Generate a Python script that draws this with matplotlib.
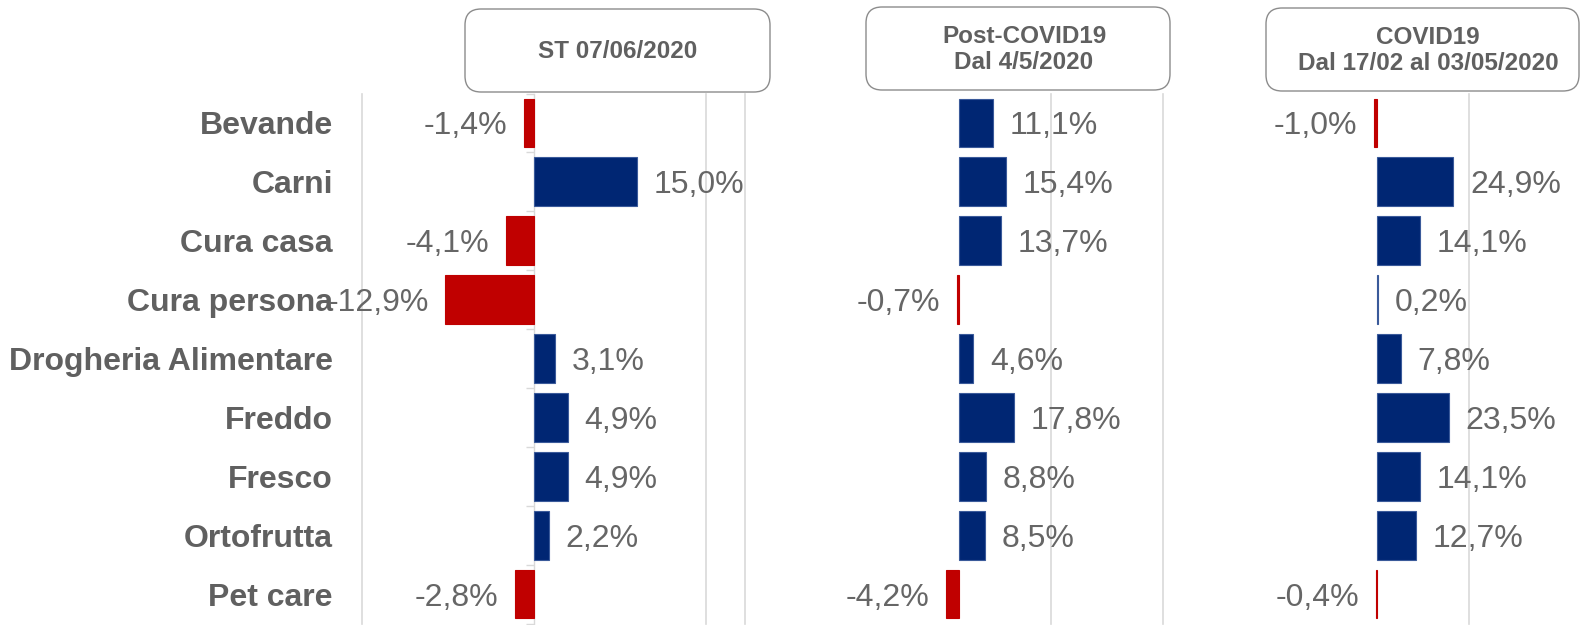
import matplotlib
matplotlib.use("Agg")
import matplotlib.pyplot as plt
import matplotlib.transforms as mtransforms
from matplotlib.patches import FancyBboxPatch

plt.rcParams["font.family"] = ["Liberation Sans", "DejaVu Sans"]

categories = ["Bevande", "Carni", "Cura casa", "Cura persona", "Drogheria Alimentare",
              "Freddo", "Fresco", "Ortofrutta", "Pet care"]
st_values = [-1.4, 15.0, -4.1, -12.9, 3.1, 4.9, 4.9, 2.2, -2.8]
post_values = [11.1, 15.4, 13.7, -0.7, 4.6, 17.8, 8.8, 8.5, -4.2]
covid_values = [-1.0, 24.9, 14.1, 0.2, 7.8, 23.5, 14.1, 12.7, -0.4]
titles = ["ST 07/06/2020", "Post-COVID19\nDal 4/5/2020", "COVID19\nDal 17/02 al 03/05/2020"]

NAVY = "#002673"
RED = "#C00000"
GRID = "#d9d9d9"
TEXT = "#606060"
LABEL = "#666666"

W, H = 1580, 625
fig = plt.figure(figsize=(W / 100, H / 100), dpi=100)


def px_axes(left, right, top, bottom):
    return fig.add_axes([left / W, (H - bottom) / H, (right - left) / W, (bottom - top) / H])


panels = [
    (px_axes(362, 745, 93.5, 623.5), st_values, (-25, 30.7), [-25, 25]),
    (px_axes(745, 1163, 93.5, 623.5), post_values, (-70, 66.6), [-70, 30]),
    (px_axes(1163, 1580, 93.5, 623.5), covid_values, (-70, 66.3), [-70, 30]),
]

ypos = list(range(len(categories)))

for i, (ax, vals, xlim, grid) in enumerate(panels):
    colors = [NAVY if v >= 0 else RED for v in vals]
    edges = ["#3a5a9a" if v >= 0 else RED for v in vals]
    ax.barh(ypos, vals, height=0.83, color=colors, edgecolor=edges, linewidth=0.8, zorder=3)
    ax.set_xlim(*xlim)
    ax.set_ylim(len(categories) - 0.5, -0.5)
    for g in grid:
        ax.axvline(g, color=GRID, lw=1.2, zorder=0, clip_on=False)
    for s in ["top", "right", "bottom"]:
        ax.spines[s].set_visible(False)
    ax.set_xticks([])
    for y, v in zip(ypos, vals):
        txt = f"{v:.1f}%".replace(".", ",")
        off = 12 if v >= 0 else -12
        ax.annotate(txt, (v, y), xytext=(off, 0), textcoords="offset points",
                    ha="left" if v >= 0 else "right", va="center_baseline",
                    fontsize=23, color=LABEL, annotation_clip=False, zorder=4)
    if i == 0:
        ax.spines["left"].set_position(("data", 0))
        ax.spines["left"].set_color(GRID)
        ax.spines["left"].set_linewidth(1.0)
        ax.spines["left"].set_zorder(2)
        ax.set_yticks(ypos)
        ax.set_yticklabels([])
        ax.tick_params(axis="y", which="major", length=0)
        ax.set_yticks([k + 0.5 for k in range(-1, len(categories))], minor=True)
        ax.tick_params(axis="y", which="minor", length=6, color=GRID, width=1.0)
        trans = mtransforms.blended_transform_factory(ax.transAxes, ax.transData)
        for y, c in zip(ypos, categories):
            ax.text(-0.076, y, c, transform=trans, ha="right", va="center_baseline",
                    fontsize=23, fontweight="bold", color=TEXT)
    else:
        ax.spines["left"].set_visible(False)
        ax.set_yticks([])

# title boxes (pixel positions: left, right, top, bottom, text center x)
boxes = [(465, 770, 9, 92, 618), (866, 1170, 7, 90, 1024), (1266, 1579, 8, 91, 1428)]
for (l, r, t, b, cx), title in zip(boxes, titles):
    patch = FancyBboxPatch(((l) / 100, (H - b) / 100), (r - l) / 100, (b - t) / 100,
                           boxstyle="round,pad=0,rounding_size=0.16",
                           transform=fig.dpi_scale_trans, facecolor="white",
                           edgecolor="#8c8c8c", linewidth=1.0, clip_on=False)
    fig.add_artist(patch)
    fig.text(cx / W, (H - (t + b) / 2 - 1) / H, title, ha="center", va="center",
             fontsize=17.5, fontweight="bold", color=TEXT, linespacing=1.12)

fig.savefig("out.png", dpi=100)
